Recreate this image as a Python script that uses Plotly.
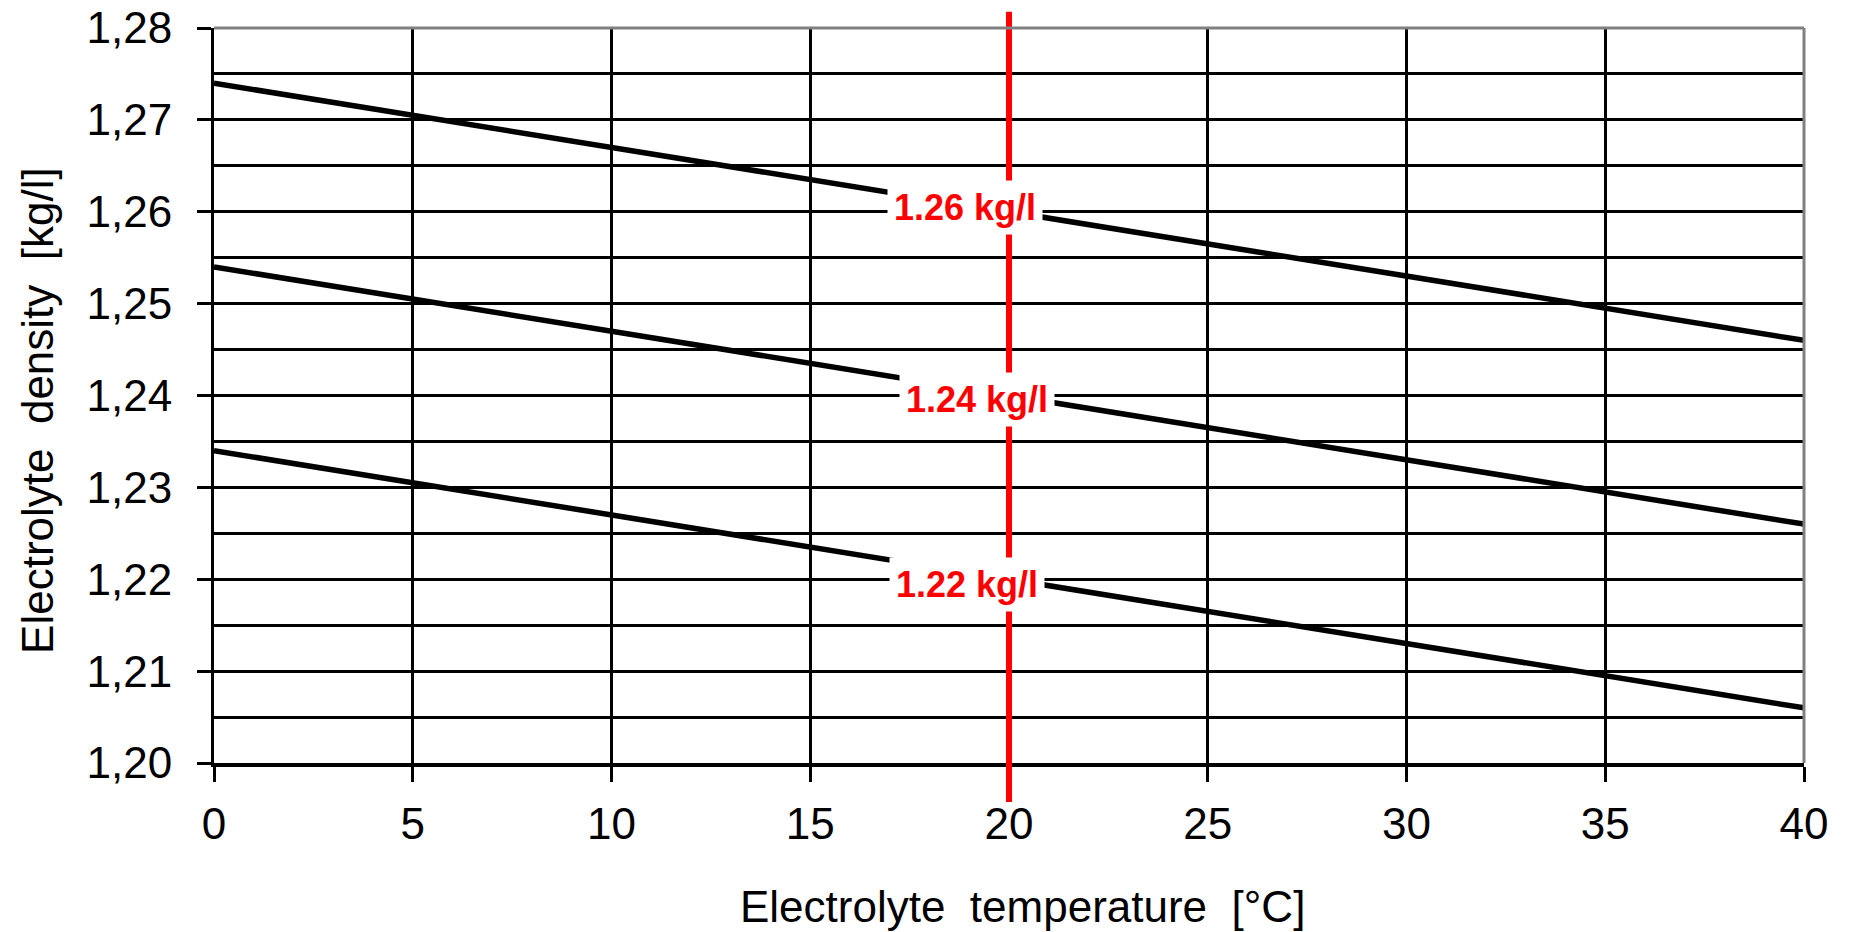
import plotly.graph_objects as go

# Data
temperature = [0, 40]
density_126 = [1.274, 1.246]
density_124 = [1.254, 1.226]
density_122 = [1.234, 1.206]
reference_temp = 20
label_values = [1.26, 1.24, 1.22]
label_texts = ["1.26 kg/l", "1.24 kg/l", "1.22 kg/l"]
x_ticks = [0, 5, 10, 15, 20, 25, 30, 35, 40]
y_ticks = [1.20, 1.21, 1.22, 1.23, 1.24, 1.25, 1.26, 1.27, 1.28]
x_title = "Electrolyte  temperature  [°C]"
y_title = "Electrolyte  density  [kg/l]"

fig = go.Figure()
for series in (density_126, density_124, density_122):
    fig.add_trace(go.Scatter(x=temperature, y=series, mode="lines",
                             line=dict(color="black", width=5.5), showlegend=False,
                             hoverinfo="skip"))

# red reference line
fig.add_shape(type="line", xref="x", yref="paper", x0=reference_temp, x1=reference_temp,
              y0=-0.053, y1=1.022, line=dict(color="#ff0000", width=6), layer="above")
# gray frame top and right
fig.add_shape(type="line", xref="paper", yref="paper", x0=0, x1=1, y0=1, y1=1,
              line=dict(color="#808080", width=3), layer="above")
fig.add_shape(type="line", xref="paper", yref="paper", x0=1, x1=1, y0=0, y1=1,
              line=dict(color="#808080", width=3), layer="above")

xshifts = [-44, -32, -42]
yshifts = [4, -4, -5]
for v, t, xs, ys in zip(label_values, label_texts, xshifts, yshifts):
    fig.add_annotation(x=reference_temp, y=v, text=t, showarrow=False,
                       xanchor="center", yanchor="middle", xshift=xs, yshift=ys,
                       font=dict(family="Liberation Sans, Arial", size=36, color="#ff0000", weight="bold"),
                       bgcolor="white", borderpad=6)

# axis titles
fig.add_annotation(xref="paper", yref="paper", x=0.5088, y=0, yshift=-143, text=x_title,
                   showarrow=False, xanchor="center", yanchor="middle",
                   font=dict(family="Liberation Sans, Arial", size=44, color="black"))
fig.add_annotation(xref="paper", yref="paper", x=0, xshift=-176, y=0.479, text=y_title,
                   showarrow=False, xanchor="center", yanchor="middle", textangle=-90,
                   font=dict(family="Liberation Sans, Arial", size=44, color="black"))

fig.update_layout(
    width=1854, height=932,
    margin=dict(l=214, r=50, t=28, b=169),
    plot_bgcolor="white", paper_bgcolor="white",
    separators=",.",
    font=dict(family="Liberation Sans, Arial", size=44, color="black"),
)
fig.update_xaxes(
    range=[0, 40], tickvals=x_ticks, ticks="outside", ticklen=15, tickwidth=3, tickcolor="black",
    showline=True, linecolor="black", linewidth=4,
    showgrid=True, gridcolor="black", gridwidth=3,
    zeroline=False, automargin=False,
    tickfont=dict(size=44), ticklabelstandoff=4,
)
fig.update_yaxes(
    range=[1.20, 1.28], tickvals=y_ticks, tickformat=".2f",
    ticks="outside", ticklen=14, tickwidth=3, tickcolor="black",
    showline=True, linecolor="black", linewidth=3,
    showgrid=True, gridcolor="black", gridwidth=3,
    minor=dict(dtick=0.005, showgrid=True, gridcolor="black", gridwidth=2.5),
    zeroline=False, automargin=False,
    tickfont=dict(size=44), ticklabelstandoff=16,
)

fig.write_html("out.html")
